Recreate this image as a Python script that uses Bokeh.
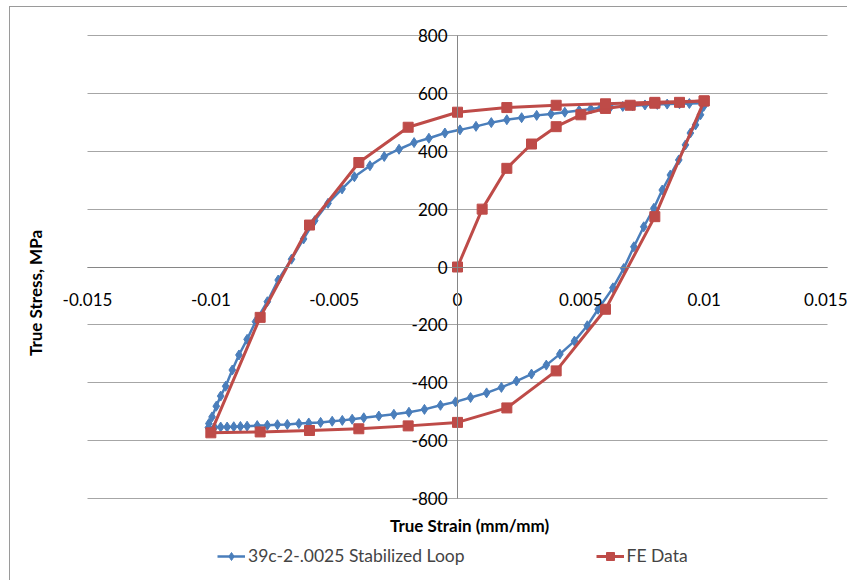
import math
from bokeh.plotting import figure
from bokeh.models import (FixedTicker, Legend, LegendItem, Range1d, LinearAxis, Grid, Label)
from bokeh.embed import file_html
from bokeh.resources import INLINE

# ---- data ----
x_ticks = [-0.015, -0.01, -0.005, 0, 0.005, 0.01, 0.015]
x_tick_labels = ["-0.015", "-0.01", "-0.005", "0", "0.005", "0.01", "0.015"]
y_ticks = [-800, -600, -400, -200, 0, 200, 400, 600, 800]
y_tick_labels = ["-800", "-600", "-400", "-200", "0", "200", "400", "600", "800"]

loop_strain = [
    0.0100, 0.00998, 0.00985, 0.00965, 0.00944, 0.00924, 0.00897, 0.00863, 0.0083,
    0.00796, 0.00755, 0.00715, 0.00674, 0.00630, 0.0057, 0.00526, 0.00474, 0.00415,
    0.0036, 0.0030, 0.00239, 0.00178, 0.00118, 0.00053, -0.00008, -0.00069, -0.00134,
    -0.00197, -0.00258, -0.00319, -0.0038, -0.00427, -0.00467, -0.00508, -0.00555,
    -0.00603, -0.00643, -0.0069, -0.0073, -0.00771, -0.00812, -0.00853, -0.0088,
    -0.00907, -0.00934, -0.0096, -0.00985, -0.0101,
    -0.01008, -0.00995, -0.00978, -0.0096, -0.0094, -0.00913, -0.00886, -0.00853,
    -0.00819, -0.00771, -0.00727, -0.00673, -0.00624, -0.00579, -0.00525, -0.00468,
    -0.00418, -0.00355, -0.00297, -0.00237, -0.00176, -0.00116, -0.00051, 0.0001,
    0.00075, 0.00137, 0.0020, 0.0026, 0.00321, 0.00379, 0.00435, 0.00493, 0.0054,
    0.0058, 0.0062, 0.0067, 0.0071, 0.0076, 0.0081, 0.0085, 0.0090, 0.0094, 0.0099,
    0.0100,
]
loop_stress = [
    567, 555, 526, 491, 463, 422, 370, 318, 266,
    203, 139, 70, -5, -72, -146, -203, -256, -301,
    -339, -370, -394, -416, -435, -451, -466, -478, -492,
    -502, -509, -515, -521, -526, -530, -533, -537,
    -539, -541, -544, -545, -547, -548, -550, -551,
    -552, -553, -553, -554, -555,
    -541, -518, -481, -446, -412, -356, -304, -250,
    -189, -120, -45, 27, 97, 160, 220, 270,
    312, 350, 382, 407, 430, 445, 463, 474,
    486, 499, 509, 516, 524, 529, 535, 541, 546,
    550, 553, 555, 557, 560, 562, 563, 564, 565, 566,
    567,
]

fe_strain = [0, 0.001, 0.002, 0.003, 0.004, 0.005, 0.006, 0.007, 0.008, 0.009, 0.010,
             0.008, 0.006, 0.004, 0.002, 0.0, -0.002, -0.004, -0.006, -0.008, -0.010,
             -0.008, -0.006, -0.004, -0.002, 0.0, 0.002, 0.004, 0.006, 0.008, 0.010]
fe_stress = [0, 200, 341, 425, 485, 526, 548, 559, 566, 569, 574,
             174, -146, -359, -487, -537, -549, -559, -565, -570, -573,
             -174, 145, 361, 483, 535, 551, 559, 564, 569, 574]

series_names = ["39c-2-.0025 Stabilized Loop", "FE Data"]
x_title = "True Strain (mm/mm)"
y_title = "True Stress, MPa"

FONT = "Lato"
BLUE = "#4A7EBB"
RED = "#BE4B48"
GRID = "#A6A6A6"
AXIS = "#868686"

# The frame covers the whole chart area so that titles, edge tick labels and the
# legend (all drawn inside it) are not clipped; ranges are padded so that the
# axis extents -0.015..0.015 / -800..800 land on the original plot-area box.
p = figure(width=838, height=574, x_range=Range1d(-0.0181216, 0.015851),
           y_range=Range1d(-1086.8, 896.8), output_backend="svg", toolbar_location=None,
           x_axis_location=None, y_axis_location=None,
           min_border_left=0, min_border_right=0, min_border_top=0, min_border_bottom=0,
           margin=(6, 0, 0, 9),
           styles={"border-top": "1px solid #9A9A9A", "border-left": "1px solid #9A9A9A"})
p.outline_line_color = None
p.background_fill_color = "white"

for g in p.xgrid + p.ygrid:
    g.visible = False

# horizontal gridlines limited to the x-axis extent
if "cross_bounds" in Grid.properties():
    p.add_layout(Grid(dimension=1, ticker=FixedTicker(ticks=y_ticks),
                      cross_bounds=(x_ticks[0], x_ticks[-1]),
                      grid_line_color=GRID, grid_line_width=1))
else:
    p.segment(x0=[x_ticks[0]] * len(y_ticks), x1=[x_ticks[-1]] * len(y_ticks),
              y0=y_ticks, y1=y_ticks, line_color=GRID, line_width=1)

# axes crossing at the origin
xa = LinearAxis(fixed_location=0, bounds=(x_ticks[0], x_ticks[-1]),
                ticker=FixedTicker(ticks=x_ticks),
                major_label_overrides={t: s for t, s in zip(x_ticks, x_tick_labels)})
ya = LinearAxis(fixed_location=0, bounds=(y_ticks[0], y_ticks[-1]),
                ticker=FixedTicker(ticks=y_ticks),
                major_label_overrides={t: s for t, s in zip(y_ticks, y_tick_labels)})
for a in (xa, ya):
    a.axis_line_color = AXIS
    a.axis_line_width = 1
    a.major_tick_line_color = None
    a.minor_tick_line_color = None
    a.major_tick_in = 0
    a.major_tick_out = 0
    a.major_label_text_font = FONT
    a.major_label_text_font_size = "17px"
    a.major_label_text_color = "black"
xa.major_label_standoff = 26
ya.major_label_standoff = 10
p.add_layout(xa, "below")
p.add_layout(ya, "left")

# axis titles
p.add_layout(Label(x=0, y=y_ticks[0], x_offset=12, y_offset=-27, text=x_title,
                   text_align="center", text_baseline="middle", text_font=FONT,
                   text_font_style="bold", text_font_size="17px", text_color="black"))
p.add_layout(Label(x=x_ticks[0], y=0, x_offset=-52, y_offset=-26, text=y_title,
                   angle=math.pi / 2, text_align="center", text_baseline="middle",
                   text_font=FONT, text_font_style="bold", text_font_size="17px",
                   text_color="black"))

bl = p.line(loop_strain, loop_stress, line_color=BLUE, line_width=2.5)
bs = p.scatter(loop_strain, loop_stress, marker="diamond", size=10,
               fill_color=BLUE, line_color=BLUE)
rl = p.line(fe_strain, fe_stress, line_color=RED, line_width=3)
rs = p.scatter(fe_strain, fe_stress, marker="square", size=10,
               fill_color=RED, line_color=RED)

legend = Legend(items=[LegendItem(label=series_names[0], renderers=[bl, bs]),
                       LegendItem(label=series_names[1], renderers=[rl, rs])],
                orientation="horizontal", location=(207, 15), spacing=131,
                glyph_width=28, label_standoff=3, border_line_color=None,
                background_fill_alpha=0, padding=0, margin=0,
                label_text_font=FONT, label_text_font_size="17.5px")
p.add_layout(legend)

open("out.html", "w").write(file_html(p, INLINE))
